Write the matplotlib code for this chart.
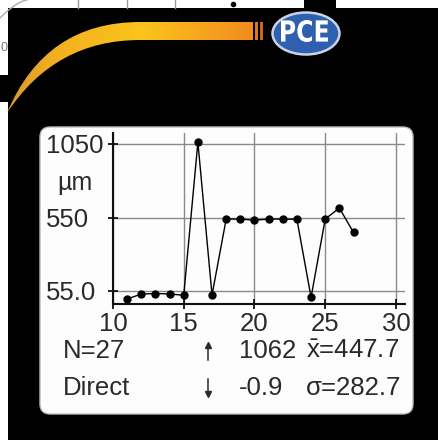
import numpy as np
import matplotlib
matplotlib.use('Agg')
import matplotlib.pyplot as plt
from matplotlib.patches import Rectangle, Ellipse, FancyBboxPatch, PathPatch
from matplotlib.path import Path
from matplotlib.textpath import TextPath
from matplotlib.font_manager import FontProperties
from matplotlib.colors import LinearSegmentedColormap
from matplotlib.transforms import Affine2D

lecturas = [11, 12, 13, 14, 15, 16, 17, 18, 19, 20, 21, 22, 23, 24, 25, 26, 27]
espesor = [-0.9, 32, 36, 33, 24, 1062, 26, 541, 541, 533, 541, 541, 539, 10, 541, 616, 450]
xticks = [10, 15, 20, 25, 30]
yticks = [55.0, 550, 1050]
ytick_labels = ['55.0', '550', '1050']
estadisticas = ['N=27', 'Direct']
maximo_minimo = ['1062', '-0.9']
media_sigma = [r'$\bar{\mathrm{x}}$=447.7', 'σ=282.7']

plt.rcParams['font.family'] = ['Liberation Sans', 'DejaVu Sans']
plt.rcParams['mathtext.fontset'] = 'custom'
plt.rcParams['mathtext.rm'] = 'Liberation Sans'
plt.rcParams['mathtext.it'] = 'Liberation Sans'

W, H = 439, 440
fig = plt.figure(figsize=(W / 100, H / 100), dpi=100, facecolor='white')
FS = 18.5
TXT = '#2a2a2a'

# fondo en pixeles
bg = fig.add_axes([0, 0, 1, 1])
bg.set_xlim(0, W)
bg.set_ylim(H, 0)
bg.axis('off')

bg.add_patch(Rectangle((8, 8), W - 8, H - 8, color='black', lw=0))
bg.add_patch(Rectangle((0, 75), 9, 27, color='black', lw=0))
bg.add_patch(Rectangle((304, 0), 32, 9, color='black', lw=0))

# restos de la otra foto arriba a la izquierda
for xv in [78, 127, 175]:
    bg.plot([xv, xv], [0, 8], color='#9a9a9a', lw=1)
bg.plot([233], [4], 'o', color='black', ms=3)
t = np.linspace(0, 1, 30)
bg.plot(27 * t, 18 * (1 - t) ** 1.5, color='#aaaaaa', lw=1)
bg.text(0.5, 48, '0', fontsize=9, color='#777777', va='center', ha='left')

# curva naranja
verts = [(7, 113), (45, 22), (140, 22), (253, 22), (253, 40), (140, 40), (55, 40), (7, 113), (7, 113)]
codes = [Path.MOVETO, Path.CURVE3, Path.CURVE3, Path.LINETO, Path.LINETO, Path.LINETO,
         Path.CURVE3, Path.CURVE3, Path.CLOSEPOLY]
swoosh = PathPatch(Path(verts, codes), facecolor='none', edgecolor='none')
bg.add_patch(swoosh)
cmap = LinearSegmentedColormap.from_list('naranja', [(0, '#d89a30'), (0.2, '#f3b01f'),
                                                    (0.55, '#fbc41c'), (1, '#f28c1f')])
grad = np.linspace(0, 1, 256).reshape(1, -1)
img = bg.imshow(grad, cmap=cmap, extent=(7, 253, 113, 22), aspect='auto', zorder=2)
img.set_clip_path(swoosh)
bg.add_patch(Rectangle((255, 22), 3, 18, color='#d87a1c', lw=0, zorder=2))
bg.add_patch(Rectangle((260, 22), 3, 18, color='#c8681a', lw=0, zorder=2))

# logo PCE
bg.add_patch(Ellipse((306, 33.5), 67, 42, facecolor='#2f5faf', edgecolor='#c9d2e6', lw=1.8, zorder=3))
tp = TextPath((0, 0), 'PCE', size=1, prop=FontProperties(family='DejaVu Sans', weight='bold'))
ext = tp.get_extents()
tr = Affine2D().translate(-ext.x0, -ext.y0).scale(47 / ext.width, -22 / ext.height).translate(281, 42)
bg.add_patch(PathPatch(tr.transform_path(tp), facecolor='white', edgecolor='none', zorder=4))

# recuadro blanco
bg.add_patch(FancyBboxPatch((40, 127), 373, 287, boxstyle='round,pad=0,rounding_size=10',
                            facecolor='#fdfdfd', edgecolor='#bbbbbb', lw=1, zorder=3))

# grafica
left, right, bottom, top = 113, 405, 304, 133
ax = fig.add_axes([left / W, 1 - bottom / H, (right - left) / W, (bottom - top) / H])
ax.set_zorder(5)
ax.set_facecolor('none')
ax.set_xlim(10, 30.64)
ax.set_ylim(-35.2, 1124.6)
ax.plot(lecturas, espesor, color='black', lw=1, marker='o', ms=5, zorder=3)

ax.set_xticks(xticks)
ax.set_yticks(yticks)
ax.set_yticklabels(ytick_labels)
ax.grid(True, color='#8a8a8a', lw=1)
for s in ['top', 'right']:
    ax.spines[s].set_visible(False)
for s in ['left', 'bottom']:
    ax.spines[s].set_color('#111111')
    ax.spines[s].set_linewidth(1.5)
ax.tick_params(direction='inout', length=7, width=1.3, color='#111111',
               labelsize=FS, labelcolor=TXT)
ax.tick_params(axis='x', pad=2)
ax.tick_params(axis='y', pad=(left - 46) / 1.389 - 3.5)
for lab in ax.get_yticklabels():
    lab.set_ha('left')

def px(x, y):
    return x / W, 1 - y / H

fig.text(*px(57, 183), 'µm', fontsize=18, color=TXT, va='center', ha='left')

filas = [351, 388]
for i, yv in enumerate(filas):
    fig.text(*px(63, yv), estadisticas[i], fontsize=FS, color=TXT, va='center', ha='left')
    fig.text(*px(239, yv), maximo_minimo[i], fontsize=FS, color=TXT, va='center', ha='left')
    fig.text(*px(306, yv), media_sigma[i], fontsize=FS, color=TXT, va='center', ha='left')

# flechas de maximo y minimo
bg.plot([208, 208], [345, 360], color=TXT, lw=1.1, zorder=6)
bg.plot([208], [345], marker='^', ms=4.5, color=TXT, zorder=6)
bg.plot([208, 208], [379, 394], color=TXT, lw=1.1, zorder=6)
bg.plot([208], [394], marker='v', ms=4.5, color=TXT, zorder=6)

fig.savefig('out.png', dpi=100, facecolor='white')
